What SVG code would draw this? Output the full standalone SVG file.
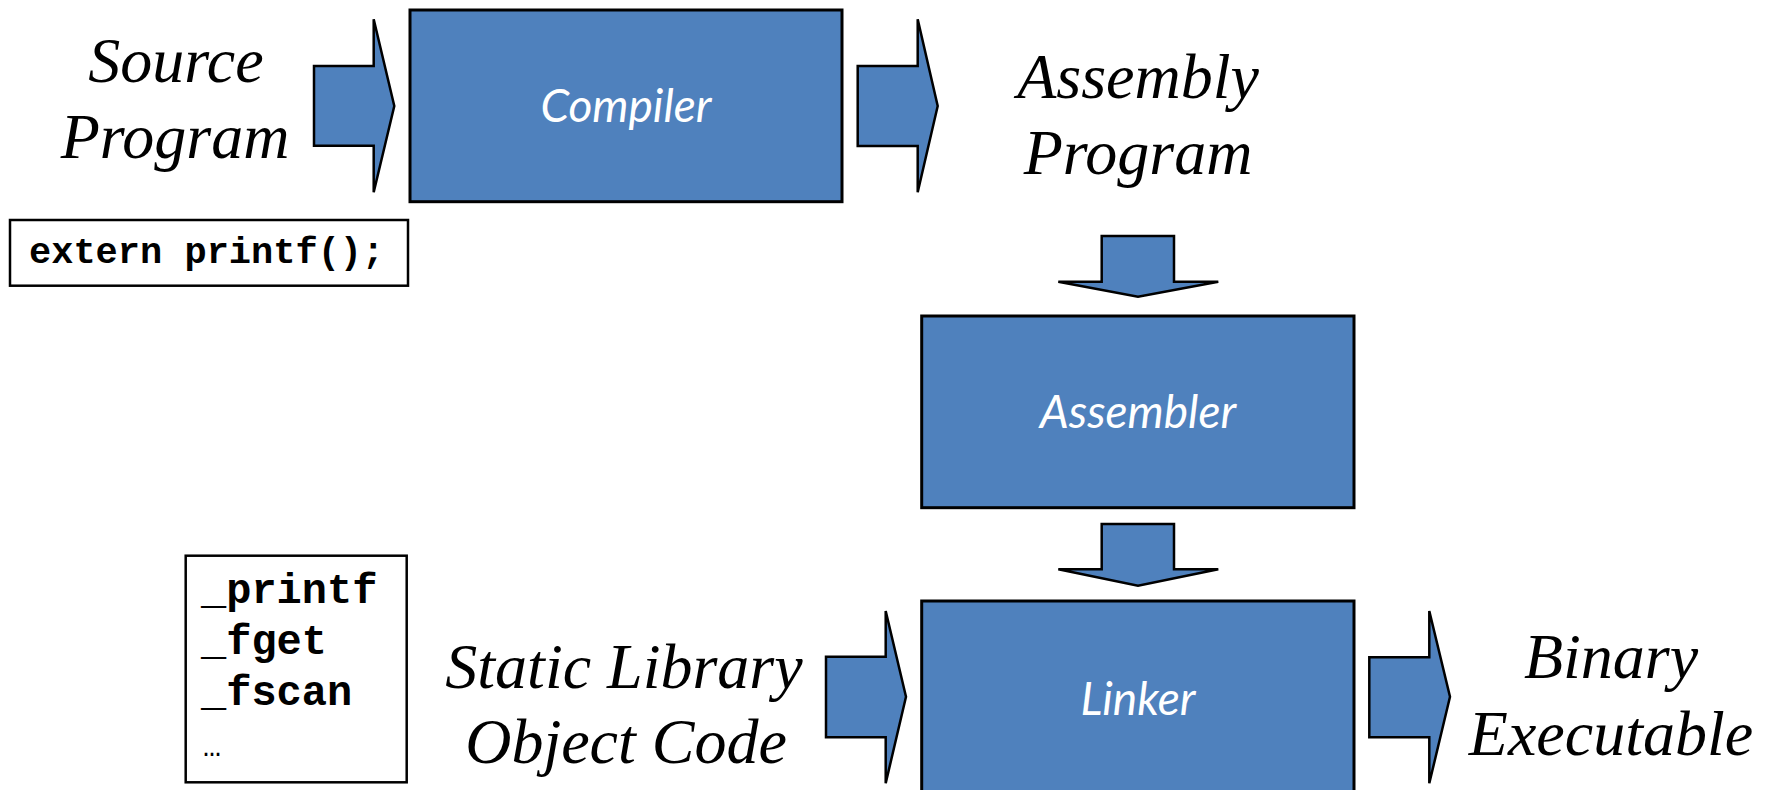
<svg xmlns="http://www.w3.org/2000/svg" width="1771" height="790" viewBox="0 0 1771 790">
<style>
.box{fill:#4F81BD;stroke:#000;stroke-width:3}
.arrow{fill:#4F81BD;stroke:#000;stroke-width:2.5;stroke-linejoin:miter}
.code{fill:#fff;stroke:#000;stroke-width:2.5}
.lbl{font-family:"Lato","Open Sans",sans-serif;font-style:italic;font-size:46px;fill:#fff;text-anchor:middle}
.ser{font-family:"Liberation Serif","Times New Roman",serif;font-style:italic;font-size:64px;fill:#000;text-anchor:middle}
.mono{font-family:"Liberation Mono","Courier New",monospace;font-weight:bold;fill:#000}
</style>
<rect width="1771" height="790" fill="#fff"/>
<g id="compiler">
<rect class="box" x="410" y="10" width="432" height="191.7"/>
<text class="lbl" x="626" y="122">Compiler</text>
</g>
<g id="assembler">
<rect class="box" x="921.7" y="316" width="432.3" height="191.7"/>
<text class="lbl" x="1138" y="427.5">Assembler</text>
</g>
<g id="linker">
<rect class="box" x="921.7" y="601" width="432.3" height="194"/>
<text class="lbl" x="1138" y="714.5">Linker</text>
</g>
<g id="source">
<text class="ser" x="176" y="82">Source</text>
<text class="ser" x="175" y="158">Program</text>
</g>
<g id="extern">
<rect class="code" x="10" y="220" width="398" height="65.7"/>
<text class="mono" x="29" y="263" font-size="37">extern printf();</text>
</g>
<g id="assembly">
<text class="ser" x="1138" y="98">Assembly</text>
<text class="ser" x="1138" y="174">Program</text>
</g>
<g id="library">
<rect class="code" x="185.7" y="555.7" width="221" height="226.6"/>
<text class="mono" x="201" y="603" font-size="42">_printf</text>
<text class="mono" x="201" y="654" font-size="42">_fget</text>
<text class="mono" x="201" y="705" font-size="42">_fscan</text>
<text x="203" y="756" font-size="30" font-family="Liberation Mono, monospace" fill="#000">…</text>
</g>
<g id="static">
<text class="ser" x="624" y="688">Static Library</text>
<text class="ser" x="626" y="763">Object Code</text>
</g>
<g id="binary">
<text class="ser" x="1611" y="678">Binary</text>
<text class="ser" x="1611" y="755">Executable</text>
</g>
<g id="connectors">
<polygon class="arrow" points="314,66 373.7,66 373.7,19.3 394.3,106 373.7,192.3 373.7,145.7 314,145.7"/>
<polygon class="arrow" points="857.7,66 917.7,66 917.7,19.3 937.7,106 917.7,192.3 917.7,146 857.7,146"/>
<polygon class="arrow" points="1101.7,236 1174,236 1174,281.7 1218.3,281.7 1138,296.7 1058.3,281.7 1101.7,281.7"/>
<polygon class="arrow" points="1101.7,524 1174,524 1174,569.3 1218.3,569.3 1138,585.7 1058.3,569.3 1101.7,569.3"/>
<polygon class="arrow" points="826,656.7 885.7,656.7 885.7,611 906,696.7 885.7,783.3 885.7,737.3 826,737.3"/>
<polygon class="arrow" points="1369.3,657.3 1429.3,657.3 1429.3,611 1450,696.7 1429.3,783.3 1429.3,737.3 1369.3,737.3"/>
</g>
</svg>
